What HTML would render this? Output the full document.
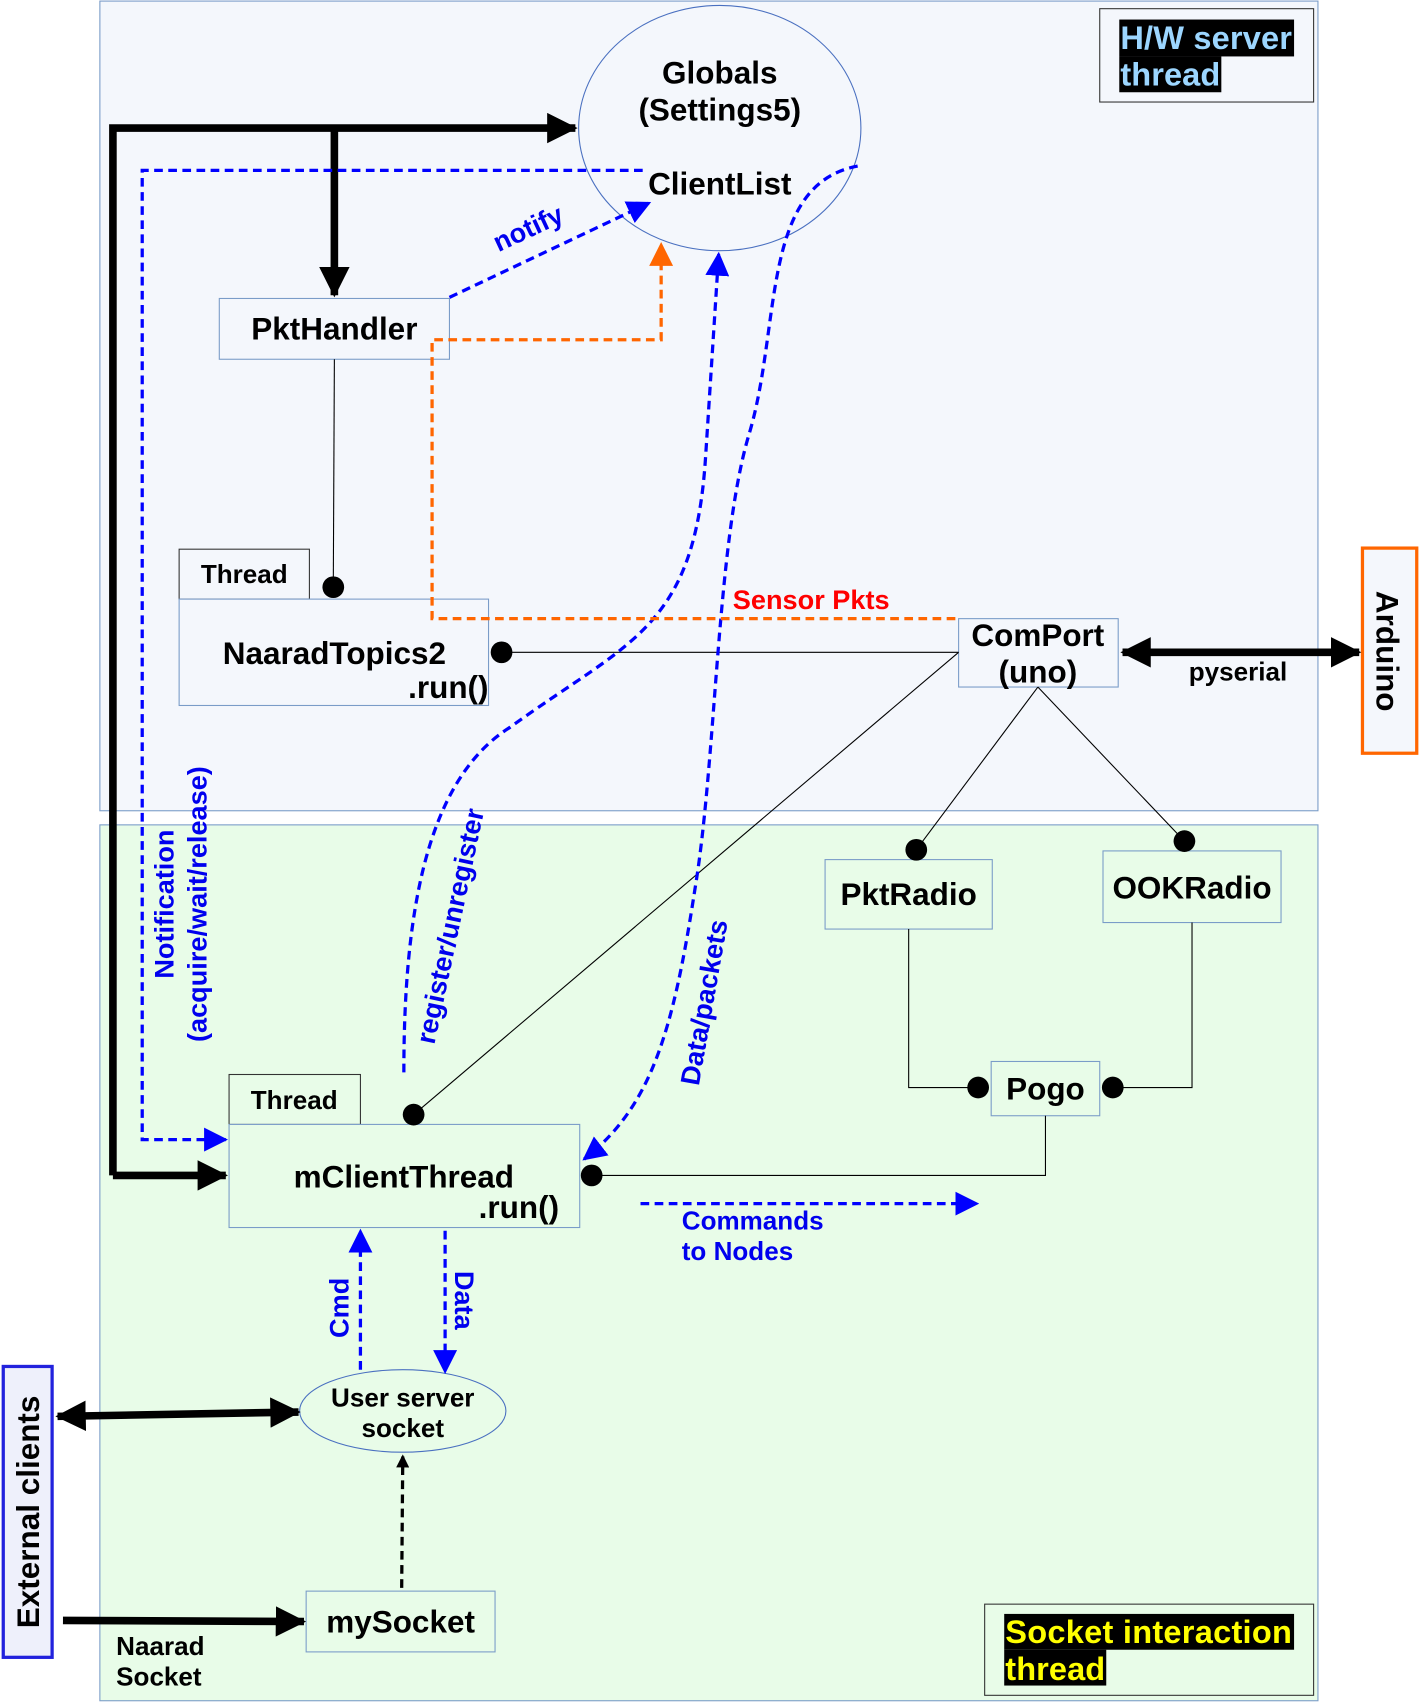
<!DOCTYPE html>
<html><head><meta charset="utf-8"><style>
html,body{margin:0;padding:0;background:#fff}
svg{display:block}
text{font-family:"Liberation Sans",sans-serif;font-weight:bold}
</style></head><body>
<svg width="1420" height="1704" viewBox="0 0 1308 1570" preserveAspectRatio="none">
<defs>
<marker id="abl2" markerWidth="22" markerHeight="22" refX="20" refY="11" orient="auto" markerUnits="userSpaceOnUse"><path d="M0,0 L22,11 L0,22z" fill="#00f"/></marker>
<marker id="aor" markerWidth="22" markerHeight="22" refX="20" refY="11" orient="auto" markerUnits="userSpaceOnUse"><path d="M0,0 L22,11 L0,22z" fill="#f60"/></marker>
<marker id="abk" markerWidth="12" markerHeight="12" refX="10" refY="6" orient="auto" markerUnits="userSpaceOnUse"><path d="M0,0 L12,6 L0,12z" fill="#000"/></marker>
<marker id="abig" markerWidth="28" markerHeight="28" refX="26" refY="14" orient="auto" markerUnits="userSpaceOnUse"><path d="M0,0 L28,14 L0,28z" fill="#000"/></marker>
<marker id="abigs" markerWidth="28" markerHeight="28" refX="26" refY="14" orient="auto-start-reverse" markerUnits="userSpaceOnUse"><path d="M0,0 L28,14 L0,28z" fill="#000"/></marker>
</defs>
<rect x="92" y="1" width="1122" height="746" fill="#f4f7fc" stroke="#7a9cc8"/>
<rect x="92" y="760" width="1122" height="807" fill="#e8fce8" stroke="#7a9cc8"/>
<rect x="1013" y="8" width="197" height="86" fill="#f4f7fc" stroke="#333"/>
<rect x="1031" y="18" width="161" height="34" fill="#000"/><rect x="1031" y="52" width="94" height="33" fill="#000"/>
<text x="1032" y="45" font-size="30" fill="#9cd6ff" textLength="158">H/W server</text>
<text x="1032" y="79" font-size="30" fill="#9cd6ff" textLength="92">thread</text>
<rect x="907" y="1478" width="303" height="84" fill="#e8fce8" stroke="#333"/>
<rect x="925" y="1487" width="267" height="33" fill="#000"/><rect x="925" y="1520" width="94" height="33" fill="#000"/>
<text x="926" y="1514" font-size="30" fill="#ff0" textLength="264">Socket interaction</text>
<text x="926" y="1548" font-size="30" fill="#ff0" textLength="92">thread</text>
<ellipse cx="663" cy="118" rx="130" ry="113" fill="#f4f7fc" stroke="#4a70c0"/>
<text x="663" y="77" font-size="29" text-anchor="middle">Globals</text>
<text x="663" y="111" font-size="29" text-anchor="middle">(Settings5)</text>
<text x="663" y="179" font-size="29" text-anchor="middle">ClientList</text>
<rect x="202" y="275" width="212" height="56" fill="#f4f7fc" stroke="#7a9cc8"/>
<text x="308" y="313" font-size="29" text-anchor="middle">PktHandler</text>
<rect x="165" y="506" width="120" height="46" fill="#f4f7fc" stroke="#333"/>
<text x="225" y="537" font-size="24" text-anchor="middle">Thread</text>
<rect x="165" y="552" width="285" height="98" fill="#f4f7fc" stroke="#7a9cc8"/>
<text x="308" y="612" font-size="29" text-anchor="middle">NaaradTopics2</text>
<text x="450" y="643" font-size="29" text-anchor="end">.run()</text>
<rect x="883" y="570" width="147" height="63" fill="#f4f7fc" stroke="#7a9cc8"/>
<text x="956" y="595" font-size="29" text-anchor="middle">ComPort</text>
<text x="956" y="629" font-size="29" text-anchor="middle">(uno)</text>
<rect x="1255" y="505" width="50" height="189" fill="#f4f7fc" stroke="#f60" stroke-width="3"/>
<text transform="translate(1268,600) rotate(90)" font-size="29" text-anchor="middle">Arduino</text>
<rect x="760" y="792" width="154" height="64" fill="#e8fce8" stroke="#7a9cc8"/>
<text x="837" y="834" font-size="29" text-anchor="middle">PktRadio</text>
<rect x="1016" y="784" width="164" height="66" fill="#e8fce8" stroke="#7a9cc8"/>
<text x="1098" y="828" font-size="29" text-anchor="middle">OOKRadio</text>
<rect x="913" y="978" width="100" height="50" fill="#e8fce8" stroke="#7a9cc8"/>
<text x="963" y="1013" font-size="29" text-anchor="middle">Pogo</text>
<rect x="211" y="990" width="121" height="46" fill="#e8fce8" stroke="#333"/>
<text x="271" y="1022" font-size="24" text-anchor="middle">Thread</text>
<rect x="211" y="1036" width="323" height="95" fill="#e8fce8" stroke="#7a9cc8"/>
<text x="372" y="1094" font-size="29" text-anchor="middle">mClientThread</text>
<text x="515" y="1122" font-size="29" text-anchor="end">.run()</text>
<ellipse cx="371" cy="1300" rx="95" ry="38" fill="#e8fce8" stroke="#4a70c0"/>
<text x="371" y="1296" font-size="24" text-anchor="middle">User server</text>
<text x="371" y="1324" font-size="24" text-anchor="middle">socket</text>
<rect x="282" y="1466" width="174" height="56" fill="#e8fce8" stroke="#7a9cc8"/>
<text x="369" y="1504" font-size="29" text-anchor="middle">mySocket</text>
<rect x="3" y="1259" width="45" height="268" fill="#eef0fb" stroke="#22d" stroke-width="3"/>
<text transform="translate(36,1393) rotate(-90)" font-size="29" text-anchor="middle">External clients</text>
<g stroke="#000" stroke-width="1" fill="none">
<path d="M308 331 L307 541"/>
<path d="M462 601 L883 601"/>
<path d="M883 601 L381 1027"/>
<path d="M956 633 L844 783"/>
<path d="M956 633 L1091 775"/>
<path d="M837 856 L837 1002 L901 1002"/>
<path d="M1098 850 L1098 1002 L1025 1002"/>
<path d="M963 1028 L963 1083 L545 1083"/>
</g>
<g fill="#000">
<circle cx="307" cy="541" r="10"/><circle cx="462" cy="601" r="10"/><circle cx="381" cy="1027" r="10"/>
<circle cx="844" cy="783" r="10"/><circle cx="1091" cy="775" r="10"/><circle cx="901" cy="1002" r="10"/>
<circle cx="1025" cy="1002" r="10"/><circle cx="545" cy="1083" r="10"/>
</g>
<g stroke="#000" stroke-width="7" fill="none">
<path d="M104 1083 L104 118 L530 118" marker-end="url(#abig)"/>
<path d="M104 1083 L208 1083" marker-end="url(#abig)"/>
<path d="M308 118 L308 272" marker-end="url(#abig)"/>
<path d="M1034 601 L1252 601" marker-start="url(#abigs)" marker-end="url(#abig)"/>
<path d="M53 1305 L275 1301" marker-start="url(#abigs)" marker-end="url(#abig)"/>
<path d="M58 1493 L280 1494" marker-end="url(#abig)"/>
</g>
<path d="M370 1463 L371 1342" stroke="#000" stroke-width="3" stroke-dasharray="8,5" marker-end="url(#abk)"/>
<g stroke="#00f" stroke-width="3" fill="none" stroke-dasharray="8,5">
<path d="M592 157 L131 157 L131 1050 L208 1050" marker-end="url(#abl2)"/>
<path d="M414 274 L598 187" marker-end="url(#abl2)"/>
<path d="M372 988 C372 850 390 720 470 670 C580 590 640 580 650 420 L662 234" marker-end="url(#abl2)"/>
<path d="M790 153 C700 170 720 300 690 400 C660 500 660 700 640 820 C620 950 600 1020 538 1068" marker-end="url(#abl2)"/>
<path d="M332 1262 L332 1134" marker-end="url(#abl2)"/>
<path d="M410 1134 L410 1264" marker-end="url(#abl2)"/>
<path d="M590 1109 L900 1109" marker-end="url(#abl2)"/>
</g>
<path d="M880 570 L398 570 L398 313 L609 313 L609 225" stroke="#f60" stroke-width="3" fill="none" stroke-dasharray="8,5" marker-end="url(#aor)"/>
<g fill="#00e" font-size="25">
<text transform="translate(490,218) rotate(-25)" text-anchor="middle">notify</text>
<text transform="translate(160,833) rotate(-90)" text-anchor="middle">Notification</text>
<text transform="translate(190,833) rotate(-90)" text-anchor="middle">(acquire/wait/release)</text>
<text transform="translate(423,855) rotate(-78)" text-anchor="middle">register/unregister</text>
<text transform="translate(657,925) rotate(-80)" text-anchor="middle">Data/packets</text>
<text transform="translate(321,1205) rotate(-90)" text-anchor="middle">Cmd</text>
<text transform="translate(419,1198) rotate(90)" text-anchor="middle">Data</text>
<text x="628" y="1133" font-size="24">Commands</text>
<text x="628" y="1161" font-size="24">to Nodes</text>
</g>
<text x="675" y="561" font-size="25" fill="#f00">Sensor Pkts</text>
<text x="1095" y="627" font-size="24">pyserial</text>
<text x="107" y="1525" font-size="24">Naarad</text>
<text x="107" y="1553" font-size="24">Socket</text>
</svg>
</body></html>
